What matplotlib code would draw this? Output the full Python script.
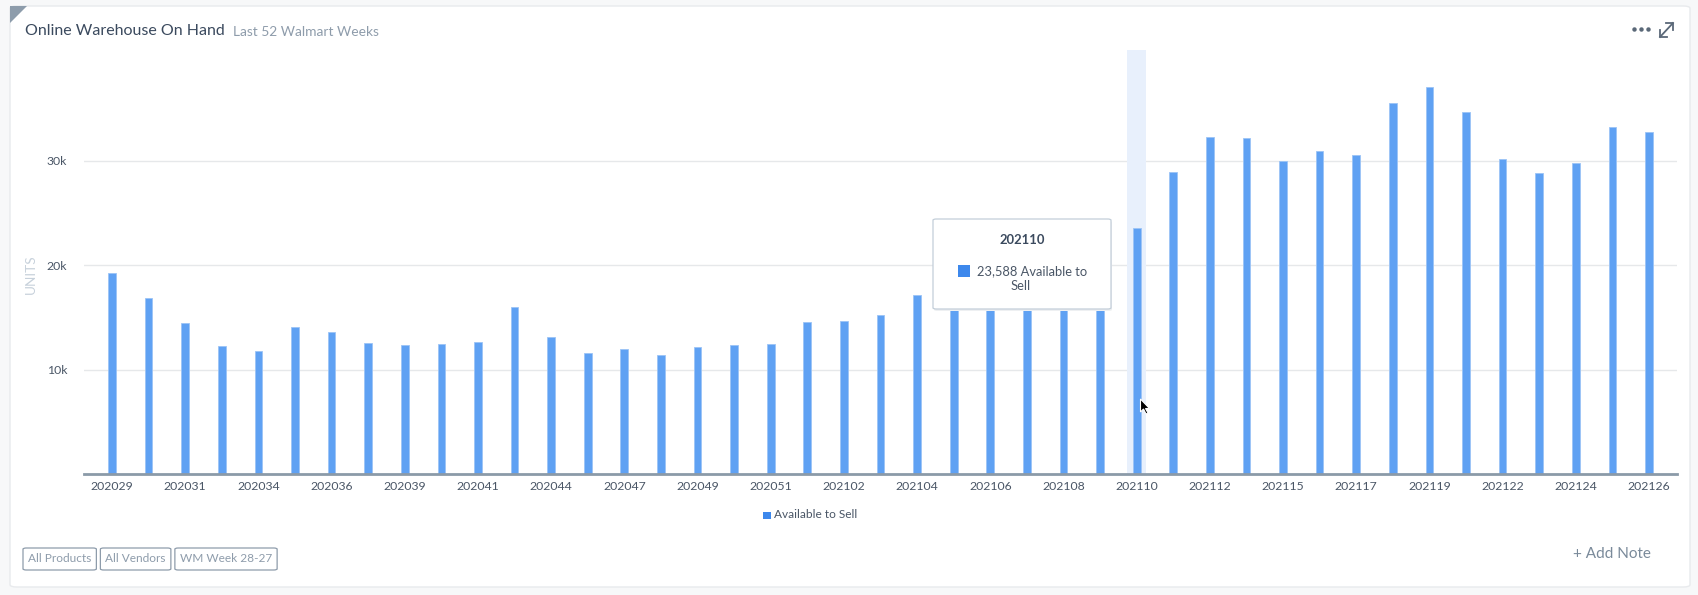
import matplotlib
matplotlib.use("Agg")
import matplotlib.pyplot as plt
from matplotlib.patches import FancyBboxPatch, Rectangle, Polygon

# ---------------- data ----------------
weeks = ["202029", "202030", "202031", "202033", "202034", "202035", "202036", "202038",
         "202039", "202040", "202041", "202043", "202044", "202046", "202047", "202048",
         "202049", "202050", "202051", "202101", "202102", "202103", "202104", "202105",
         "202106", "202107", "202108", "202109", "202110", "202111", "202112", "202114",
         "202115", "202116", "202117", "202118", "202119", "202121", "202122", "202123",
         "202124", "202125", "202126"]
available_to_sell = [19300, 16900, 14500, 12250, 11800, 14100, 13650, 12600,
                     12370, 12470, 12700, 16000, 13100, 11600, 12000, 11400,
                     12200, 12350, 12500, 14600, 14700, 15200, 17200, 18400,
                     19600, 20300, 21100, 22200, 23588, 28900, 32300, 32200,
                     30000, 30900, 30600, 35500, 37100, 34700, 30200, 28800,
                     29800, 33200, 32800]
yticks = [10000, 20000, 30000]
ytick_labels = ["10k", "20k", "30k"]
series_name = "Available to Sell"
highlight_week = "202110"
title = "Online Warehouse On Hand"
subtitle = "Last 52 Walmart Weeks"
filters = ["All Products", "All Vendors", "WM Week 28-27"]

# ---------------- figure ----------------
W, H = 1698, 595
plt.rcParams['font.family'] = ['Lato', 'DejaVu Sans']
fig = plt.figure(figsize=(W / 100, H / 100), dpi=100)
fig.patch.set_facecolor("#f7f8f9")

def P(x, y):
    return (x / W, 1 - y / H)

# card
card = FancyBboxPatch(P(10, 587), (1690 - 10) / W, (587 - 6) / H,
                      boxstyle="round,pad=0,rounding_size=0.004",
                      transform=fig.transFigure, facecolor="white",
                      edgecolor="#e8eaed", linewidth=1.0, zorder=-5)
fig.patches.append(card)
# corner triangle
tri = Polygon([P(10, 6), P(27, 6), P(10, 23)], closed=True, transform=fig.transFigure,
              facecolor="#8d9cab", edgecolor="none", zorder=1)
fig.patches.append(tri)

# title
fig.text(*P(25, 31), title, fontsize=11.5, color="#3b4a5e", va="center", ha="left")
fig.text(*P(233, 32.5), subtitle, fontsize=9.9, color="#8e9cab", va="center", ha="left")

# icons top right
fig.lines.append(plt.Line2D([1634 / W, 1641 / W, 1648 / W], [1 - 29 / H] * 3,
                            transform=fig.transFigure, color="#5a6878", lw=0,
                            marker="o", markersize=3.2, markeredgewidth=0))
fig.lines.append(plt.Line2D([1660 / W, 1673 / W], [1 - 37 / H, 1 - 23 / H],
                            transform=fig.transFigure, color="#5a6878", lw=1.3))
fig.lines.append(plt.Line2D([1666 / W, 1673 / W, 1673 / W], [1 - 23 / H, 1 - 23 / H, 1 - 30 / H],
                            transform=fig.transFigure, color="#5a6878", lw=1.3))
fig.lines.append(plt.Line2D([1660 / W, 1660 / W, 1667 / W], [1 - 30 / H, 1 - 37 / H, 1 - 37 / H],
                            transform=fig.transFigure, color="#5a6878", lw=1.3))

# ---------------- axes ----------------
ax_l, ax_r, ax_t, ax_b = 84, 1677, 50, 474.3
ax = fig.add_axes([ax_l / W, 1 - ax_b / H, (ax_r - ax_l) / W, (ax_b - ax_t) / H])
ax.set_zorder(2)
ax.set_facecolor("none")
x = list(range(len(weeks)))
ax.bar(x, available_to_sell, width=0.21, color="#5fa1f3", edgecolor="#9cc4f6",
       linewidth=0.6, zorder=3)
hi = weeks.index(highlight_week)
ax.axvspan(hi - 0.26, hi + 0.26, color="#e8f0fc", zorder=1, lw=0)

ax.set_xlim(-0.765, len(weeks) - 1 + 0.765)
ax.set_ylim(0, 40600)
ax.set_yticks(yticks)
ax.set_yticklabels(ytick_labels)
ax.grid(axis="y", color="#e6e8ea", linewidth=1.0, zorder=0)
ax.set_axisbelow(True)
ax.set_xticks(x[::2])
ax.set_xticklabels(weeks[::2])
for s in ("top", "right", "left"):
    ax.spines[s].set_visible(False)
ax.spines["bottom"].set_color("#8b9aa8")
ax.spines["bottom"].set_linewidth(2)
ax.spines["bottom"].set_zorder(5)
ax.tick_params(axis="both", length=0, labelsize=8.8, colors="#4a5666")
ax.tick_params(axis="x", pad=5)
ax.tick_params(axis="y", pad=12)
fig.text(*P(31, 274), "UNITS", rotation=90, fontsize=9.8, color="#c7d1db",
         va="center", ha="center")

# legend
fig.patches.append(Rectangle(P(763, 519), 7.5 / W, 7.5 / H, transform=fig.transFigure,
                             facecolor="#3d88ec", edgecolor="none"))
fig.text(*P(774, 514.5), series_name, fontsize=8.6, color="#4a5666", va="center", ha="left")

# filter buttons
bx = 23
for lab in filters:
    t = fig.text(*P(bx + 5, 559), lab, fontsize=8.6, color="#8e9cab", va="center", ha="left")
    fig.canvas.draw()
    bb = t.get_window_extent()
    wpx = bb.width + 10
    fig.patches.append(FancyBboxPatch(P(bx, 570), wpx / W, 22 / H,
                                      boxstyle="round,pad=0,rounding_size=0.002",
                                      transform=fig.transFigure, facecolor="none",
                                      edgecolor="#8e9cab", linewidth=0.9))
    bx += wpx + 4

fig.text(*P(1651, 554), "+ Add Note", fontsize=11, color="#7a8a9a", va="center", ha="right")

# tooltip
tx0, ty0, tx1, ty1 = 933, 219, 1111, 309
fig.patches.append(FancyBboxPatch(P(tx0 + 1, ty1 + 2), (tx1 - tx0) / W, (ty1 - ty0) / H,
                                  boxstyle="round,pad=0,rounding_size=0.002",
                                  transform=fig.transFigure, facecolor="#eef0f2",
                                  edgecolor="none", zorder=8))
fig.patches.append(FancyBboxPatch(P(tx0, ty1), (tx1 - tx0) / W, (ty1 - ty0) / H,
                                  boxstyle="round,pad=0,rounding_size=0.002",
                                  transform=fig.transFigure, facecolor="white",
                                  edgecolor="#c3ced9", linewidth=0.9, zorder=9))
fig.text(*P(1022, 239.5), highlight_week, fontsize=9.4, fontweight="bold", color="#3b4a5e",
         va="center", ha="center", zorder=10)
fig.patches.append(Rectangle(P(958, 277), 12 / W, 12 / H, transform=fig.transFigure,
                             facecolor="#3d88ec", edgecolor="none", zorder=10))
fig.text(*P(977, 271), f"{available_to_sell[hi]:,} {series_name.rsplit(' ', 1)[0]}",
         fontsize=9.3, color="#4a5666", va="center", ha="left", zorder=10)
fig.text(*P(1021, 286), series_name.rsplit(' ', 1)[1], fontsize=9.3, color="#4a5666",
         va="center", ha="center", zorder=10)

# mouse cursor
cx, cy = 1140.5, 399
cur = [(0, 0), (0, 13), (3, 10), (5.5, 15), (7.5, 14), (5, 9.5), (9, 9.5)]
fig.patches.append(Polygon([P(cx + a, cy + b) for a, b in cur], closed=True,
                           transform=fig.transFigure, facecolor="black",
                           edgecolor="white", linewidth=0.8, zorder=12))

fig.savefig("out.png", dpi=100, facecolor=fig.get_facecolor())
